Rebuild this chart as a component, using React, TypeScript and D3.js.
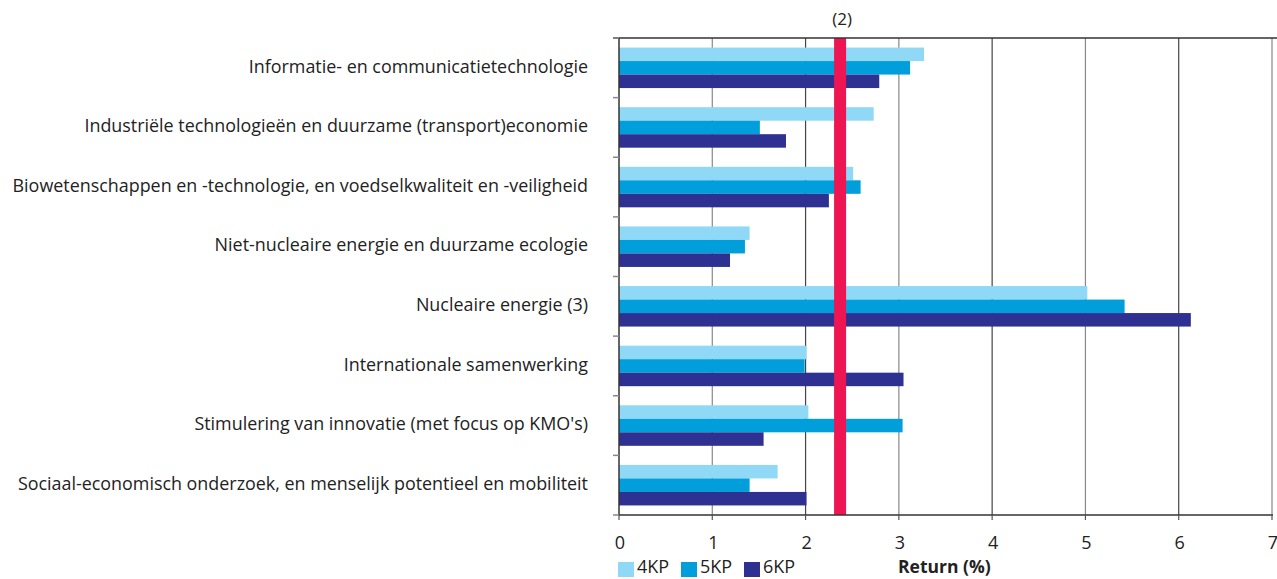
import React from "react";
import * as d3 from "d3";

const categories = [
  "Informatie- en communicatietechnologie",
  "Industriële technologieën en duurzame (transport)economie",
  "Biowetenschappen en -technologie, en voedselkwaliteit en -veiligheid",
  "Niet-nucleaire energie en duurzame ecologie",
  "Nucleaire energie (3)",
  "Internationale samenwerking",
  "Stimulering van innovatie (met focus op KMO's)",
  "Sociaal-economisch onderzoek, en menselijk potentieel en mobiliteit",
];
const seriesNames = ["4KP", "5KP", "6KP"];
const kp4 = [3.27, 2.73, 2.51, 1.4, 5.02, 2.01, 2.03, 1.7];
const kp5 = [3.12, 1.51, 2.59, 1.35, 5.42, 1.99, 3.04, 1.4];
const kp6 = [2.79, 1.79, 2.25, 1.19, 6.13, 3.05, 1.55, 2.01];
const xTicks = [0, 1, 2, 3, 4, 5, 6, 7];
const referenceValue = 2.37;
const referenceLabel = "(2)";
const axisTitle = "Return (%)";

const colors = ["#8fd8f6", "#009fdc", "#2e3192"];
const FONT = "'Open Sans', sans-serif";

export default function App() {
  const W = 1277, H = 579;
  const left = 619, right = 1272, top = 38, bottom = 515;
  const x = d3.scaleLinear().domain([0, 7]).range([left, right]);
  const y = d3.scaleBand().domain(categories).range([top, bottom]).paddingInner(0).paddingOuter(0);
  const band = y.bandwidth();
  const barH = 13.5;
  const barOffset = (band - 3 * barH) / 2;
  const series = [kp4, kp5, kp6];
  const bounds = d3.range(categories.length + 1).map((i) => top + i * band);

  return (
    <svg width={W} height={H} style={{ position: "absolute", left: 0, top: 0, background: "#fff" }}>
      {/* gridlines */}
      {xTicks.slice(1).map((t) => (
        <line key={"g" + t} x1={x(t)} x2={x(t)} y1={top} y2={bottom} stroke={t % 2 === 1 ? "#888" : "#444"} strokeWidth={1.2} />
      ))}
      {/* bars */}
      {categories.map((c, i) =>
        series.map((s, j) => (
          <rect
            key={c + j}
            x={x(0)}
            y={(y(c) as number) + barOffset + j * barH}
            width={x(s[i]) - x(0)}
            height={barH}
            fill={colors[j]}
          />
        ))
      )}
      {/* reference line */}
      <rect x={x(referenceValue) - 6} y={top} width={12} height={bottom - top} fill="#ee1652" />
      <text x={x(referenceValue) + 2} y={20} textAnchor="middle" dominantBaseline="middle" fontFamily={FONT} fontSize={17} fill="#222">
        {referenceLabel}
      </text>
      {/* top border */}
      <line x1={left - 6} x2={W} y1={top} y2={top} stroke="#333" strokeWidth={1.5} />
      {/* left axis */}
      <line x1={left} x2={left} y1={top} y2={bottom} stroke="#333" strokeWidth={1.5} />
      {bounds.map((b, i) => (
        <line key={"yt" + i} x1={left - 6} x2={left} y1={b} y2={b} stroke="#888" strokeWidth={1.5} />
      ))}
      {/* bottom axis */}
      <line x1={left} x2={right + 1} y1={bottom} y2={bottom} stroke="#333" strokeWidth={1.5} />
      {xTicks.map((t) => (
        <g key={"xt" + t}>
          <line x1={x(t)} x2={x(t)} y1={bottom} y2={bottom + 5} stroke="#555" strokeWidth={1.2} />
          <text x={x(t) + 1} y={544} textAnchor="middle" dominantBaseline="middle" fontFamily={FONT} fontSize={18} fill="#222">
            {t}
          </text>
        </g>
      ))}
      {/* category labels */}
      {categories.map((c) => (
        <text
          key={"l" + c}
          x={588}
          y={(y(c) as number) + band / 2}
          textAnchor="end"
          dominantBaseline="middle"
          fontFamily={FONT}
          fontSize={17.9}
          fill="#222"
        >
          {c}
        </text>
      ))}
      {/* legend */}
      {seriesNames.map((n, j) => {
        const lx = [618, 681, 744][j];
        return (
          <g key={"lg" + n}>
            <rect x={lx} y={562} width={16} height={15} fill={colors[j]} />
            <text x={lx + 19} y={568} dominantBaseline="middle" fontFamily={FONT} fontSize={18} fill="#222">
              {n}
            </text>
          </g>
        );
      })}
      <text x={898} y={568} dominantBaseline="middle" fontFamily={FONT} fontSize={17.5} fontWeight="bold" fill="#222">
        {axisTitle}
      </text>
    </svg>
  );
}
